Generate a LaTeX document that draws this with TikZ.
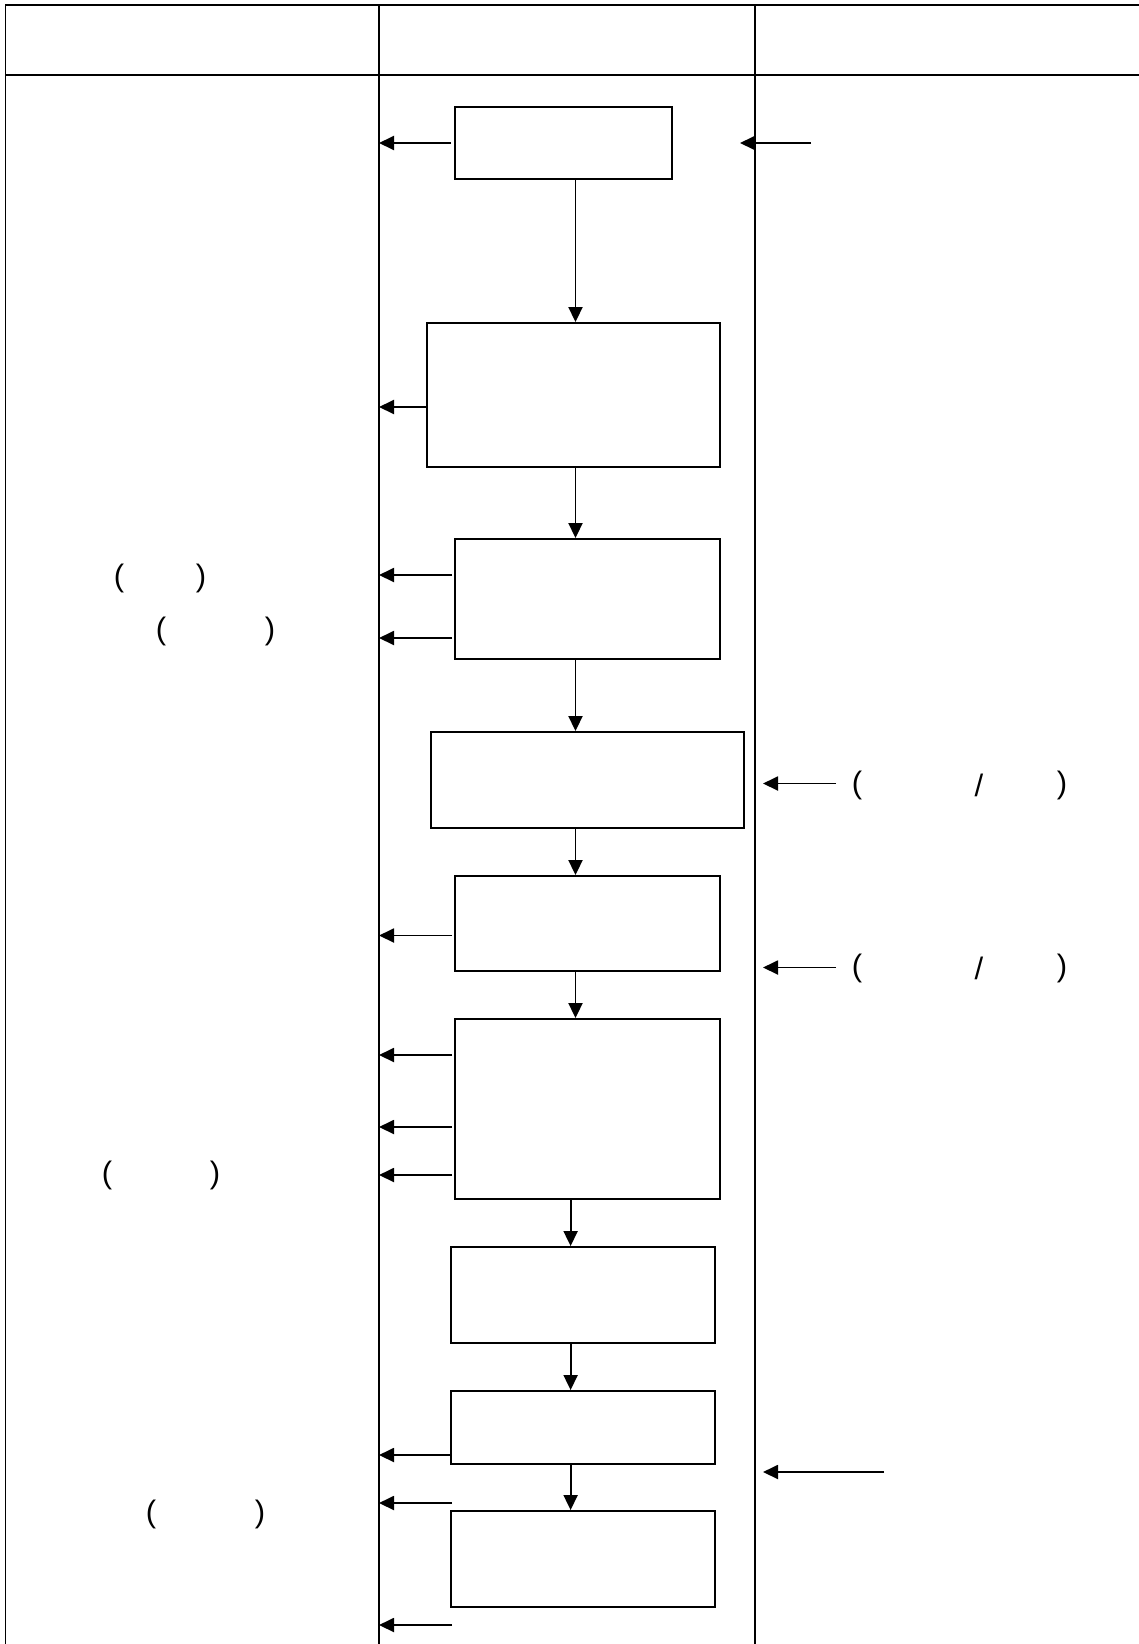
\documentclass[tikz,border=0pt]{standalone}
\usepackage{fontspec}
\setmainfont{Liberation Sans}
\usetikzlibrary{arrows.meta}
\begin{document}
\begin{tikzpicture}[x=1pt,y=-1pt,
  tableline/.style={line width=1.9pt},
  flowbox/.style={draw,line width=1.9pt,inner sep=0pt,rectangle},
  arr/.style={line width=1.9pt,-{Triangle[length=15pt,width=14pt]}},
  paren/.style={inner sep=0pt,anchor=center,font=\fontsize{31}{36}\selectfont}]
\useasboundingbox (0,0) rectangle (1138,1644);
% table
\draw[tableline] (5,5) -- (1140,5);
\draw[tableline] (5,75) -- (1140,75);
\draw[tableline] (5.5,4) -- (5.5,1646);
\draw[tableline] (379,4) -- (379,1646);
\draw[tableline] (755,4) -- (755,1646);
\coordinate (c1) at (379,0);
\coordinate (ax) at (575.5,0);
\coordinate (ay) at (570.6,0);
% boxes
\node[flowbox,minimum width=217pt,minimum height=72pt] (b1) at (563.5,143) {};
\node[flowbox,minimum width=293pt,minimum height=144pt] (b2) at (573.5,395) {};
\node[flowbox,minimum width=265pt,minimum height=120pt] (b3) at (587.5,599) {};
\node[flowbox,minimum width=313pt,minimum height=96pt] (b4) at (587.5,780) {};
\node[flowbox,minimum width=265pt,minimum height=95pt] (b5) at (587.5,923.5) {};
\node[flowbox,minimum width=265pt,minimum height=180pt] (b6) at (587.5,1109) {};
\node[flowbox,minimum width=264pt,minimum height=96pt] (b7) at (583,1295) {};
\node[flowbox,minimum width=264pt,minimum height=73pt] (b8) at (583,1427.5) {};
\node[flowbox,minimum width=264pt,minimum height=96pt] (b9) at (583,1559) {};
% vertical flow arrows
\draw[arr] (b1.south -| ax) -- (b2.north -| ax);
\draw[arr] (b2.south -| ax) -- (b3.north -| ax);
\draw[arr] (b3.south -| ax) -- (b4.north -| ax);
\draw[arr] (b4.south -| ax) -- (b5.north -| ax);
\draw[arr] (b5.south -| ax) -- (b6.north -| ax);
\draw[arr] (b6.south -| ay) -- (b7.north -| ay);
\draw[arr] (b7.south -| ay) -- (b8.north -| ay);
\draw[arr] (b8.south -| ay) -- (b9.north -| ay);
% left arrows
\coordinate (l1) at (451,143);
\coordinate (l2) at (427,407);
\coordinate (l3) at (452,575);
\coordinate (l4) at (452,638);
\coordinate (l5) at (452,935.5);
\coordinate (l6) at (452,1055);
\coordinate (l7) at (452,1127);
\coordinate (l8) at (452,1175);
\coordinate (l9) at (451,1455);
\coordinate (l10) at (452,1503);
\coordinate (l11) at (452,1625);
\foreach \n in {l1,l2,l3,l4,l5,l6,l7,l8,l9,l10,l11}
  \draw[arr] (\n) -- (\n -| c1);
% right arrows
\coordinate (r1s) at (811,143);
\coordinate (r1e) at (740,143);
\coordinate (r2s) at (836,783.5);
\coordinate (r2e) at (763,783.5);
\coordinate (r3s) at (836,967.5);
\coordinate (r3e) at (763,967.5);
\coordinate (r4s) at (884,1472);
\coordinate (r4e) at (763,1472);
\draw[arr] (r1s) -- (r1e);
\draw[arr] (r2s) -- (r2e);
\draw[arr] (r3s) -- (r3e);
\draw[arr] (r4s) -- (r4e);
% texts (parentheses)
\node[paren] (t1a) at (119,578) {(};
\node[paren] (t1b) at (201,578) {)};
\node[paren] (t2a) at (161,631.5) {(};
\node[paren] (t2b) at (270,631.5) {)};
\node[paren] (t3a) at (107,1175) {(};
\node[paren] (t3b) at (215,1175) {)};
\node[paren] (t4a) at (151,1514.5) {(};
\node[paren] (t4b) at (260,1514.5) {)};
\node[paren] (t5a) at (857,785) {(};
\node[paren] (t5s) at (979,785) {/};
\node[paren] (t5b) at (1062,785) {)};
\node[paren] (t6a) at (857,968) {(};
\node[paren] (t6s) at (979,968) {/};
\node[paren] (t6b) at (1062,968) {)};
\end{tikzpicture}
\end{document}
